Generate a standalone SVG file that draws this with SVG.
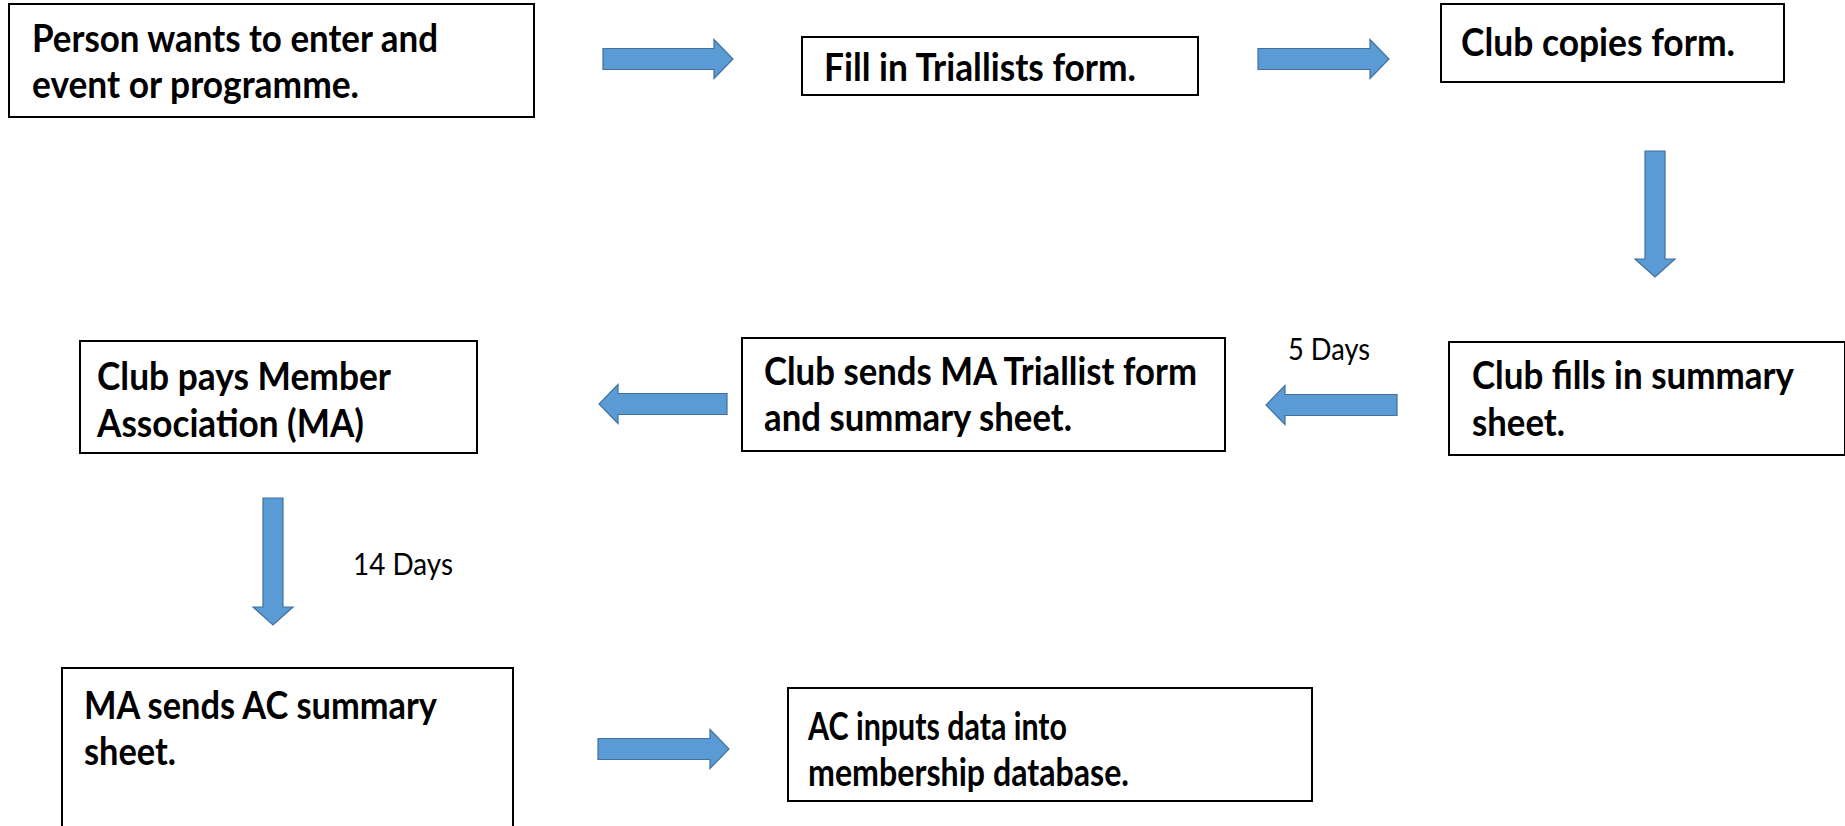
<svg xmlns="http://www.w3.org/2000/svg" width="1845" height="826" viewBox="0 0 1845 826">
<style>
.box{fill:#fff;stroke:#000;stroke-width:2}
.t{font-family:Lato,"Liberation Sans",sans-serif;font-weight:bold;font-size:39px;fill:#000}
.lbl{font-family:Lato,"Liberation Sans",sans-serif;font-size:30px;fill:#000}
.arr{fill:#5B9BD5;stroke:#41719C;stroke-width:1.2}
</style>
<rect width="1845" height="826" fill="#fff"/>
<g id="n1"><rect class="box" x="9" y="4" width="525" height="113"/><text class="t" x="32" y="52" textLength="406" lengthAdjust="spacingAndGlyphs">Person wants to enter and</text><text class="t" x="32" y="98" textLength="327" lengthAdjust="spacingAndGlyphs">event or programme.</text></g>
<g id="n2"><rect class="box" x="802" y="37" width="396" height="58"/><text class="t" x="824" y="81" textLength="312" lengthAdjust="spacingAndGlyphs">Fill in Triallists form.</text></g>
<g id="n3"><rect class="box" x="1441" y="4" width="343" height="78"/><text class="t" x="1461" y="56" textLength="274" lengthAdjust="spacingAndGlyphs">Club copies form.</text></g>
<g id="n4"><rect class="box" x="1449" y="342" width="396" height="113"/><text class="t" x="1472" y="389" textLength="322" lengthAdjust="spacingAndGlyphs">Club fills in summary</text><text class="t" x="1472" y="436" textLength="93" lengthAdjust="spacingAndGlyphs">sheet.</text></g>
<g id="n5"><rect class="box" x="742" y="338" width="483" height="113"/><text class="t" x="764" y="385" textLength="433" lengthAdjust="spacingAndGlyphs">Club sends MA Triallist form</text><text class="t" x="764" y="431" textLength="308" lengthAdjust="spacingAndGlyphs">and summary sheet.</text></g>
<g id="n6"><rect class="box" x="80" y="341" width="397" height="112"/><text class="t" x="97" y="390" textLength="294" lengthAdjust="spacingAndGlyphs">Club pays Member</text><text class="t" x="97" y="437" textLength="267" lengthAdjust="spacingAndGlyphs">Association (MA)</text></g>
<g id="n7"><rect class="box" x="62" y="668" width="451" height="180"/><text class="t" x="84" y="719" textLength="353" lengthAdjust="spacingAndGlyphs">MA sends AC summary</text><text class="t" x="84" y="765" textLength="92" lengthAdjust="spacingAndGlyphs">sheet.</text></g>
<g id="n8"><rect class="box" x="788" y="688" width="524" height="113"/><text class="t" x="808" y="740" textLength="259" lengthAdjust="spacingAndGlyphs">AC inputs data into</text><text class="t" x="808" y="786" textLength="321" lengthAdjust="spacingAndGlyphs">membership database.</text></g>
<g id="connectors">
<path class="arr" d="M603,48.5 H714 V39.5 L733,59 L714,78.5 V69.5 H603 Z"/>
<path class="arr" d="M1258,48.5 H1370 V39.5 L1389,59 L1370,78.5 V69.5 H1258 Z"/>
<path class="arr" d="M1645,151 V259 H1635 L1655,277 L1675,259 H1665 V151 Z"/>
<path class="arr" d="M1397,394.5 H1285 V385.5 L1266,405 L1285,424.5 V415.5 H1397 Z"/>
<path class="arr" d="M727,393.5 H618 V384.5 L599,404 L618,423.5 V414.5 H727 Z"/>
<path class="arr" d="M263,498 V607 H253 L273,625 L293,607 H283 V498 Z"/>
<path class="arr" d="M598,738.5 H710 V729.5 L729,749 L710,768.5 V759.5 H598 Z"/>
<text class="lbl" x="1288" y="360" textLength="82" lengthAdjust="spacingAndGlyphs">5 Days</text>
<text class="lbl" x="353" y="575" textLength="100" lengthAdjust="spacingAndGlyphs">14 Days</text>
</g>
</svg>
